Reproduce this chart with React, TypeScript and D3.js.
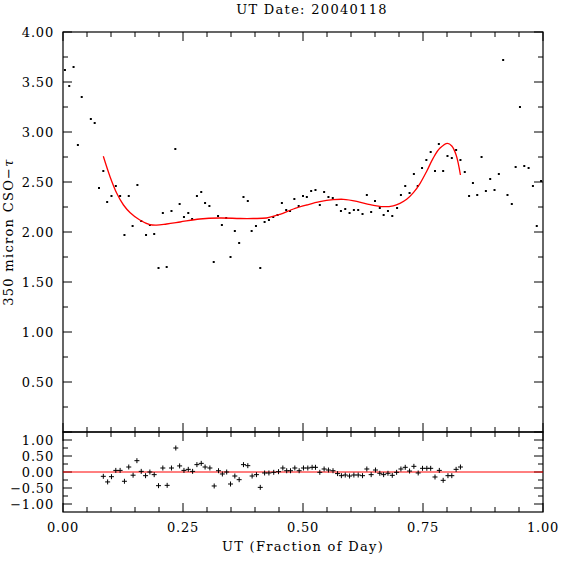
import { line, curveCatmullRom, range, scaleLinear } from "d3";

// 350 micron tau readings (UT fraction of day)
const utX = [
  0.004, 0.013, 0.022, 0.031, 0.039, 0.058, 0.066, 0.075, 0.084, 0.092, 0.101, 0.11, 0.119, 0.128, 0.137, 0.145,
  0.155, 0.163, 0.173, 0.181, 0.19, 0.199, 0.208, 0.216, 0.226, 0.234, 0.243, 0.252, 0.261, 0.269, 0.279, 0.288,
  0.296, 0.305, 0.314, 0.323, 0.331, 0.34, 0.349, 0.358, 0.367, 0.376, 0.385, 0.393, 0.402, 0.411, 0.42, 0.429,
  0.438, 0.447, 0.456, 0.465, 0.473, 0.482, 0.491, 0.5, 0.508, 0.517, 0.526, 0.535, 0.544, 0.553, 0.562, 0.57,
  0.579, 0.588, 0.597, 0.606, 0.615, 0.624, 0.633, 0.642, 0.65, 0.66, 0.668, 0.677, 0.686, 0.696, 0.704, 0.713,
  0.722, 0.731, 0.739, 0.748, 0.757, 0.766, 0.775, 0.783, 0.792, 0.801, 0.81, 0.819, 0.828, 0.837, 0.846, 0.854,
  0.863, 0.872, 0.881, 0.89, 0.899, 0.908, 0.917, 0.926, 0.935, 0.943, 0.952, 0.961, 0.97, 0.979, 0.987, 0.996,
];
const tau = [
  3.62, 3.46, 3.65, 2.87, 3.35, 3.13, 3.09, 2.44, 2.61, 2.3, 2.36, 2.46, 2.36, 1.97, 2.36, 2.06,
  2.47, 2.11, 1.97, 2.07, 1.98, 1.64, 2.19, 1.65, 2.21, 2.83, 2.28, 2.15, 2.19, 2.13, 2.36, 2.4,
  2.29, 2.26, 1.7, 2.16, 2.07, 2.14, 1.75, 2.01, 1.89, 2.35, 2.31, 2.01, 2.06, 1.64, 2.1, 2.12,
  2.15, 2.17, 2.29, 2.22, 2.21, 2.33, 2.26, 2.36, 2.35, 2.41, 2.42, 2.27, 2.4, 2.35, 2.34, 2.27,
  2.21, 2.23, 2.19, 2.22, 2.22, 2.18, 2.37, 2.2, 2.31, 2.24, 2.17, 2.21, 2.16, 2.24, 2.37, 2.46,
  2.39, 2.58, 2.46, 2.64, 2.72, 2.8, 2.61, 2.88, 2.61, 2.76, 2.74, 2.82, 2.72, 2.6, 2.36, 2.49,
  2.37, 2.75, 2.41, 2.53, 2.42, 2.58, 3.72, 2.37, 2.28, 2.65, 3.25, 2.66, 2.64, 2.46, 2.06, 2.51,
];

// polynomial fit drawn in red
const fitX = [
  0.084, 0.098, 0.112, 0.126, 0.14, 0.16, 0.181, 0.195, 0.216, 0.244, 0.285, 0.327, 0.369, 0.396, 0.424, 0.452,
  0.48, 0.508, 0.535, 0.563, 0.584, 0.612, 0.64, 0.667, 0.688, 0.702, 0.716, 0.73, 0.744, 0.758, 0.771, 0.785,
  0.801, 0.81, 0.819, 0.828,
];
const fitTau = [
  2.757, 2.553, 2.387, 2.27, 2.193, 2.12, 2.073, 2.068, 2.08, 2.1, 2.13, 2.14, 2.135, 2.135, 2.14, 2.177,
  2.23, 2.27, 2.303, 2.323, 2.327, 2.307, 2.273, 2.253, 2.262, 2.287, 2.327, 2.393, 2.487, 2.61, 2.737, 2.837,
  2.887, 2.86, 2.77, 2.57,
];

// residuals (data - fit)
const resX = [
  0.084, 0.093, 0.101, 0.11, 0.119, 0.128, 0.137, 0.146, 0.154, 0.163, 0.172, 0.181, 0.19, 0.199, 0.208, 0.217,
  0.226, 0.235, 0.243, 0.252, 0.261, 0.27, 0.279, 0.288, 0.296, 0.306, 0.315, 0.324, 0.332, 0.341, 0.349, 0.358,
  0.367, 0.376, 0.385, 0.394, 0.403, 0.411, 0.42, 0.429, 0.439, 0.449, 0.458, 0.466, 0.474, 0.483, 0.492, 0.501,
  0.51, 0.519, 0.526, 0.535, 0.544, 0.553, 0.5625, 0.572, 0.58, 0.588, 0.597, 0.606, 0.615, 0.624, 0.633, 0.642,
  0.651, 0.66, 0.668, 0.677, 0.686, 0.695, 0.704, 0.713, 0.722, 0.731, 0.74, 0.749, 0.758, 0.766, 0.775, 0.784,
  0.792, 0.802, 0.81, 0.819, 0.828,
];
const resVal = [
  -0.135, -0.31, -0.146, 0.05, 0.05, -0.29, 0.156, -0.1, 0.354, 0.02, -0.115, 0.0, -0.083, -0.427, 0.125, -0.417,
  0.125, 0.75, 0.19, 0.05, 0.083, 0.02, 0.23, 0.27, 0.156, 0.125, -0.437, 0.04, -0.062, 0.0, -0.375, -0.125,
  -0.24, 0.23, 0.198, -0.125, -0.083, -0.48, -0.03, -0.03, -0.01, 0.01, 0.125, 0.04, 0.04, 0.125, 0.04, 0.125,
  0.125, 0.146, 0.146, -0.01, 0.094, 0.062, 0.04, -0.05, -0.115, -0.094, -0.125, -0.094, -0.094, -0.115, 0.094, -0.083,
  0.062, -0.04, -0.083, -0.04, -0.104, -0.01, 0.094, 0.146, 0.03, 0.177, -0.03, 0.115, 0.115, 0.115, -0.156, 0.05,
  -0.26, -0.115, -0.115, 0.083, 0.156,
];

const xTickLabels = ["0.00", "0.25", "0.50", "0.75", "1.00"];
const tauTickLabels = ["0.50", "1.00", "1.50", "2.00", "2.50", "3.00", "3.50", "4.00"];
const resTickLabels = ["1.00", "0.50", "0.00", "\u22120.50", "\u22121.00"];

const FONT = "'DejaVu Serif', serif";

export default function App() {
  const left = 63;
  const right = 543;
  const mainTop = 32;
  const mainBottom = 432;
  const resBottom = 512;

  const x = scaleLinear().domain([0, 1]).range([left, right]);
  const y = scaleLinear().domain([0, 4]).range([mainBottom, mainTop]);
  const yr = scaleLinear().domain([-1.25, 1.25]).range([resBottom, mainBottom]);

  const fitPath = line<number>()
    .x((d) => x(d))
    .y((_, i) => y(fitTau[i]))
    .curve(curveCatmullRom)(fitX);

  const xMinor = range(0, 21).map((i) => i / 20);
  const isMajorX = (v: number) => Math.abs(v * 4 - Math.round(v * 4)) < 1e-6;
  const tauMinor = range(0, 17).map((i) => i / 4);
  const resMinor = range(-4, 5).map((i) => i / 4);
  const isHalf = (v: number) => Math.abs(v * 2 - Math.round(v * 2)) < 1e-6;

  const major = 9;
  const minor = 5;
  const stroke = "#000";
  const tickLs = 0.8;
  const labelLs = 1.3;

  return (
    <svg width={574} height={574} style={{ position: "absolute", left: 0, top: 0, background: "#fff" }} fontFamily={FONT}>
      {/* title */}
      <text x={312} y={13.5} fontSize={13} textAnchor="middle" letterSpacing={labelLs}>
        UT Date: 20040118
      </text>

      {/* frames */}
      <rect x={left} y={mainTop} width={right - left} height={mainBottom - mainTop} fill="none" stroke={stroke} strokeWidth={1.2} />
      <rect x={left} y={mainBottom} width={right - left} height={resBottom - mainBottom} fill="none" stroke={stroke} strokeWidth={1.2} />

      {/* x ticks on both panels */}
      {xMinor.map((v) => {
        const len = isMajorX(v) ? major : minor;
        const px = x(v);
        return (
          <g key={`xt${v}`} stroke={stroke} strokeWidth={1}>
            <line x1={px} x2={px} y1={mainTop} y2={mainTop + len} />
            <line x1={px} x2={px} y1={mainBottom} y2={mainBottom - len} />
            <line x1={px} x2={px} y1={mainBottom} y2={mainBottom + len} />
            <line x1={px} x2={px} y1={resBottom} y2={resBottom - len} />
          </g>
        );
      })}

      {/* main y ticks */}
      {tauMinor.map((v) => {
        const len = isHalf(v) ? major : minor;
        const py = y(v);
        return (
          <g key={`yt${v}`} stroke={stroke} strokeWidth={1}>
            <line x1={left} x2={left + len} y1={py} y2={py} />
            <line x1={right} x2={right - len} y1={py} y2={py} />
          </g>
        );
      })}

      {/* residual y ticks */}
      {resMinor.map((v) => {
        const len = isHalf(v) ? major : minor;
        const py = yr(v);
        return (
          <g key={`rt${v}`} stroke={stroke} strokeWidth={1}>
            <line x1={left} x2={left + len} y1={py} y2={py} />
            <line x1={right} x2={right - len} y1={py} y2={py} />
          </g>
        );
      })}

      {/* tick labels */}
      {tauTickLabels.map((t) => (
        <text key={`tl${t}`} x={54} y={y(+t) + 4.5} fontSize={13} textAnchor="end" letterSpacing={tickLs}>
          {t}
        </text>
      ))}
      {resTickLabels.map((t) => (
        <text key={`rl${t}`} x={54} y={yr(+t.replace("\u2212", "-")) + 4.5} fontSize={13} textAnchor="end" letterSpacing={tickLs}>
          {t}
        </text>
      ))}
      {xTickLabels.map((t) => (
        <text key={`xl${t}`} x={x(+t)} y={531.5} fontSize={13} textAnchor="middle" letterSpacing={tickLs}>
          {t}
        </text>
      ))}

      {/* axis titles */}
      <text x={x(0.5)} y={550.5} fontSize={13} textAnchor="middle" letterSpacing={labelLs}>
        UT (Fraction of Day)
      </text>
      <text
        transform={`translate(13, ${(mainTop + mainBottom) / 2}) rotate(-90)`}
        fontSize={13}
        textAnchor="middle"
        letterSpacing={labelLs}
      >
        350 micron CSO{"\u2212"}
        <tspan fontStyle="italic">τ</tspan>
      </text>

      {/* data points */}
      {utX.map((u, i) => (
        <rect key={`p${i}`} x={x(u) - 1} y={y(tau[i]) - 1} width={2} height={2} fill="#000" />
      ))}

      {/* fit */}
      <path d={fitPath ?? ""} fill="none" stroke="#ff0000" strokeWidth={1.3} />

      {/* residual zero line */}
      <line x1={left} x2={right} y1={yr(0)} y2={yr(0)} stroke="#ff0000" strokeWidth={1} />

      {/* residuals */}
      {resX.map((u, i) => {
        const px = x(u);
        const py = yr(resVal[i]);
        return (
          <g key={`r${i}`} stroke="#000" strokeWidth={1}>
            <line x1={px - 2.5} x2={px + 2.5} y1={py} y2={py} />
            <line x1={px} x2={px} y1={py - 2.5} y2={py + 2.5} />
          </g>
        );
      })}
    </svg>
  );
}
